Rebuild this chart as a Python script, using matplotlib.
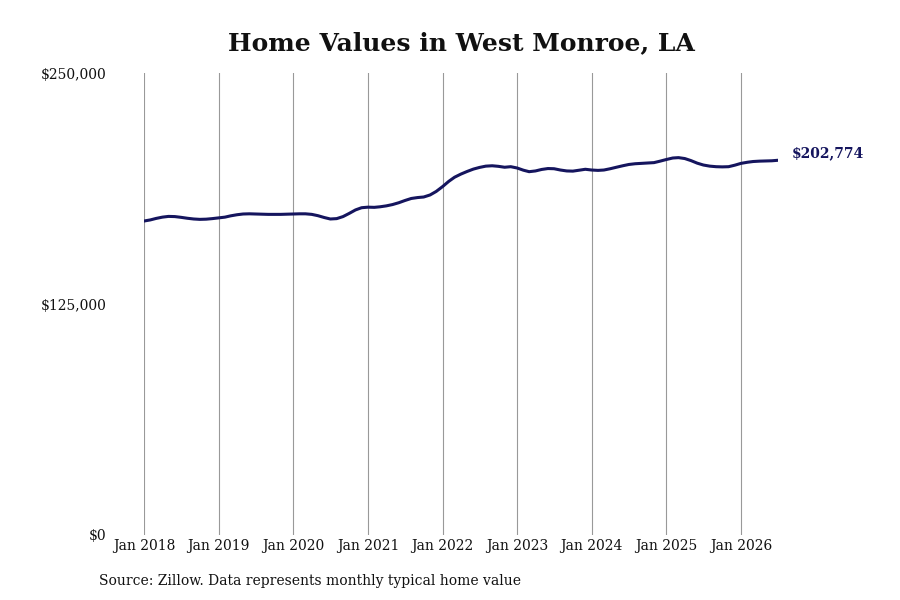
import matplotlib
matplotlib.use("Agg")
import matplotlib.pyplot as plt
import matplotlib.dates as mdates
import pandas as pd

# typical home value, thousands of dollars, monthly from Jan 2018
values_k = [
    169.9, 170.5, 171.3, 172.0, 172.4, 172.3, 171.9, 171.4, 171.0, 170.8, 170.9, 171.2,
    171.6, 172.0, 172.7, 173.3, 173.7, 173.8, 173.7, 173.6, 173.5, 173.5, 173.5, 173.6,
    173.7, 173.8, 173.8, 173.5, 172.8, 171.8, 171.0, 171.2, 172.3, 174.0, 175.9, 177.1,
    177.4, 177.3, 177.6, 178.1, 178.8, 179.8, 181.0, 182.1, 182.6, 182.9, 184.0, 185.9,
    188.5, 191.4, 193.6, 195.3, 196.7, 198.0, 198.9, 199.6, 199.8, 199.5, 199.0, 199.3,
    198.6, 197.4, 196.6, 197.0, 197.8, 198.3, 198.2, 197.5, 197.0, 196.9, 197.4, 197.9,
    197.5, 197.3, 197.5, 198.2, 199.0, 199.8, 200.5, 200.9, 201.1, 201.3, 201.5, 202.3,
    203.2, 204.0, 204.2, 203.7, 202.6, 201.2, 200.2, 199.6, 199.3, 199.2, 199.3, 200.1,
    201.1, 201.7, 202.1, 202.3, 202.4, 202.5, 202.774,
]
start_month = "2018-01-01"
year_ticks = ["2018", "2019", "2020", "2021", "2022", "2023", "2024", "2025", "2026"]
y_ticks = [0, 125000, 250000]
title = "Home Values in West Monroe, LA"
source = "Source: Zillow. Data represents monthly typical home value"

dates = pd.date_range(start_month, periods=len(values_k), freq="MS")
values = [v * 1000 for v in values_k]

plt.rcParams["font.family"] = ["DejaVu Serif"]
line_color = "#15155e"

fig = plt.figure(figsize=(9, 6), dpi=100)
ax = fig.add_axes([144 / 900, 1 - 535 / 600, (778 - 144) / 900, (535 - 73) / 600])

ax.plot(dates, values, color=line_color, linewidth=2.2, solid_capstyle="round")

ax.set_xlim(dates[0], dates[-1])
ax.set_ylim(0, 250000)
ax.set_xticks([pd.Timestamp(y + "-01-01") for y in year_ticks])
ax.xaxis.set_major_formatter(mdates.DateFormatter("Jan %Y"))
ax.set_yticks(y_ticks)
ax.set_yticklabels(["${:,.0f}".format(v) for v in y_ticks])
ax.grid(axis="x", color="#999999", linewidth=0.8)
ax.grid(axis="y", visible=False)
for s in ax.spines.values():
    s.set_visible(False)
ax.tick_params(axis="both", length=0, labelsize=10, colors="#111111")
ax.tick_params(axis="y", pad=27)
ax.tick_params(axis="x", pad=3)

last = values[-1]
ax.annotate("${:,.0f}".format(last), xy=(dates[-1], last), xytext=(10, 5),
            textcoords="offset points", va="center", ha="left",
            fontsize=10, fontweight="bold", color=line_color)

fig.text(461 / 900, 1 - 43 / 600, title, ha="center", va="center",
         fontsize=18, fontweight="bold", color="#111111")
fig.text(99 / 900, 1 - 581 / 600, source, ha="left", va="center",
         fontsize=10, color="#111111")

fig.savefig("out.png", dpi=100)
